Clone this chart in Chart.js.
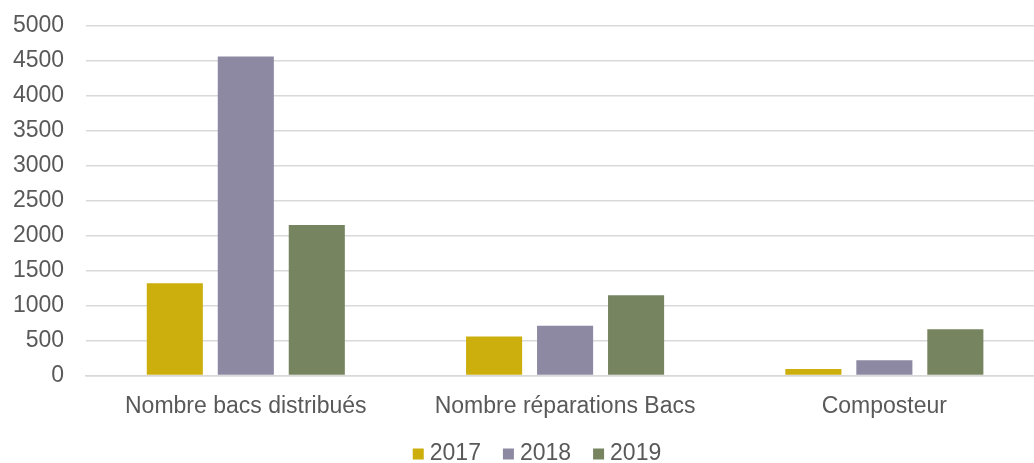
<!DOCTYPE html>
<html>
<head>
<meta charset="utf-8">
<script src="https://cdn.jsdelivr.net/npm/chart.js@4/dist/chart.umd.min.js"></script>
<style>
  html, body { margin: 0; padding: 0; background: #fff; overflow: hidden; }
  #wrap { width: 1034px; height: 463px; overflow: hidden; }
</style>
</head>
<body>
<!-- le graphique d'origine est rogné à droite : canvas un peu plus large que la fenêtre -->
<div id="wrap"><canvas id="c" width="1044" height="463"></canvas></div>
<script>
// Catégories et séries
const categories = ['Nombre bacs distribués', 'Nombre réparations Bacs', 'Composteur'];
const years = ['2017', '2018', '2019'];
const values2017 = [1315, 555, 90];
const values2018 = [4555, 710, 215];
const values2019 = [2150, 1145, 660];
const yearColors = ['#CCAE0C', '#8D89A3', '#778460'];

const textColor = '#595959';
const fontFamily = '"Liberation Sans", Arial, sans-serif';
const fontSize = 23;

// Légende dessinée à la main (petits carrés + texte, comme dans l'original)
const legendPlugin = {
    id: 'simpleLegend',
    afterDraw(chart) {
        const ctx = chart.ctx;
        const box = 11, gap = 6, between = 22;
        ctx.save();
        ctx.font = `${fontSize}px ${fontFamily}`;
        const widths = years.map((y) => ctx.measureText(y).width);
        const total = widths.reduce((a, w) => a + box + gap + w, 0) + between * (years.length - 1);
        let x = 537 - total / 2;
        const cy = 454;
        ctx.textBaseline = 'middle';
        ctx.textAlign = 'left';
        years.forEach((y, i) => {
            ctx.fillStyle = yearColors[i];
            ctx.fillRect(x, cy - box / 2, box, box);
            x += box + gap;
            ctx.fillStyle = textColor;
            ctx.fillText(y, x, cy);
            x += widths[i] + between;
        });
        ctx.restore();
    },
};

new Chart(document.getElementById('c').getContext('2d'), {
    type: 'bar',
    data: {
        labels: categories,
        datasets: [values2017, values2018, values2019].map((data, i) => ({
            label: years[i],
            data,
            backgroundColor: yearColors[i],
            borderWidth: 0,
            categoryPercentage: 0.667,
            barPercentage: 0.79,
        })),
    },
    options: {
        responsive: false,
        animation: false,
        layout: { padding: { top: 0, right: 0, left: -9, bottom: 26 } },
        plugins: {
            legend: { display: false },
            tooltip: { enabled: false },
        },
        scales: {
            y: {
                min: 0,
                max: 5000,
                ticks: {
                    stepSize: 500,
                    color: textColor,
                    font: { family: fontFamily, size: fontSize, lineHeight: 0.3 },
                    padding: 22,
                    callback: (v) => String(v),
                },
                grid: { color: '#D9D9D9', lineWidth: 1.5, drawTicks: false },
                border: { display: false },
            },
            x: {
                ticks: {
                    color: textColor,
                    font: { family: fontFamily, size: fontSize },
                    padding: 17,
                },
                grid: { display: false, drawTicks: false },
                border: { display: true, color: '#D9D9D9', width: 1.5 },
            },
        },
    },
    plugins: [legendPlugin],
});
</script>
</body>
</html>
